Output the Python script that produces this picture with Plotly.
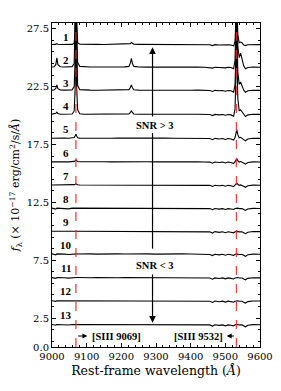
import plotly.graph_objects as go

# Rest-frame wavelength grid (Angstrom)
wave = [9000, 9006, 9011, 9014, 9017, 9024, 9035, 9048, 9058, 9064, 9067, 9069, 9071, 9074, 9080,
        9092, 9110, 9130, 9150, 9170, 9190, 9210, 9222, 9226, 9229, 9232, 9236, 9250, 9275, 9300,
        9325, 9350, 9375, 9400, 9420, 9440, 9455, 9463, 9470, 9482, 9492, 9500, 9508, 9516, 9524,
        9528, 9531, 9533, 9536, 9540, 9544, 9548, 9553, 9558, 9565, 9580, 9600]

# Vertical offsets of each stacked spectrum
offsets = [26, 24, 22, 20, 18, 16, 14, 12, 10, 8, 6, 4, 2]
labels = ["1", "2", "3", "4", "5", "6", "7", "8", "9", "10", "11", "12", "13"]

# Flux (1e-17 erg/cm2/s/A), before offset
flux_1 = [0.14, 0.13, 0.15, 0.22, 0.16, 0.14, 0.15, 0.14, 0.15, 0.25, 1.5, 4.0, 1.5, 0.3, 0.17,
          0.15, 0.14, 0.15, 0.14, 0.15, 0.14, 0.15, 0.16, 0.22, 0.32, 0.22, 0.16, 0.15, 0.14, 0.15,
          0.14, 0.15, 0.14, 0.15, 0.14, 0.13, 0.12, 0.05, 0.13, 0.10, 0.12, 0.08, 0.12, 0.10, 0.02,
          0.4, 3.0, 4.0, 1.0, 0.3, 0.35, 0.3, 0.1, 0.05, 0.12, 0.14, 0.13]
flux_2 = [0.20, 0.22, 0.40, 1.00, 0.40, 0.22, 0.20, 0.21, 0.23, 0.5, 3.0, 8.0, 3.0, 0.6, 0.25,
          0.21, 0.20, 0.20, 0.19, 0.20, 0.20, 0.21, 0.25, 0.55, 0.95, 0.50, 0.25, 0.20, 0.19, 0.20,
          0.20, 0.19, 0.20, 0.19, 0.20, 0.18, 0.17, 0.10, 0.18, 0.15, 0.17, 0.12, 0.18, 0.15, 0.05,
          0.8, 5.0, 6.0, 2.0, 1.0, 1.4, 1.0, 0.3, 0.05, 0.15, 0.20, 0.18]
flux_3 = [0.20, 0.21, 0.35, 0.65, 0.32, 0.21, 0.20, 0.20, 0.22, 0.5, 3.0, 8.0, 3.0, 0.6, 0.24,
          0.20, 0.20, 0.19, 0.20, 0.20, 0.19, 0.20, 0.24, 0.42, 0.65, 0.40, 0.23, 0.20, 0.19, 0.20,
          0.19, 0.20, 0.20, 0.19, 0.20, 0.18, 0.17, 0.08, 0.18, 0.14, 0.17, 0.10, 0.17, 0.14, 0.03,
          0.7, 5.0, 6.0, 1.8, 0.7, 0.9, 0.6, 0.2, 0.02, 0.14, 0.19, 0.18]
flux_4 = [0.12, 0.13, 0.20, 0.30, 0.18, 0.12, 0.12, 0.11, 0.13, 0.4, 2.5, 8.0, 2.5, 0.5, 0.15,
          0.12, 0.12, 0.11, 0.12, 0.12, 0.11, 0.12, 0.15, 0.28, 0.40, 0.27, 0.14, 0.12, 0.11, 0.12,
          0.11, 0.12, 0.12, 0.11, 0.12, 0.10, 0.09, 0.00, 0.10, 0.06, 0.09, 0.03, 0.09, 0.06, -0.05,
          0.6, 4.5, 6.0, 1.5, 0.4, 0.5, 0.35, 0.1, -0.08, 0.06, 0.11, 0.10]
flux_5 = [0.04, 0.05, 0.04, 0.06, 0.05, 0.04, 0.05, 0.04, 0.05, 0.10, 0.25, 0.38, 0.25, 0.08, 0.05,
          0.04, 0.05, 0.04, 0.05, 0.04, 0.05, 0.04, 0.05, 0.07, 0.09, 0.06, 0.05, 0.04, 0.05, 0.04,
          0.05, 0.04, 0.05, 0.04, 0.04, 0.03, 0.02, -0.08, 0.03, -0.02, 0.02, -0.06, 0.02, -0.02, -0.12,
          0.10, 0.55, 0.78, 0.35, 0.08, 0.12, 0.06, -0.08, -0.18, -0.02, 0.04, 0.03]
flux_6 = [0.00, 0.01, 0.00, 0.02, 0.01, 0.00, 0.01, 0.00, 0.01, 0.04, 0.10, 0.16, 0.10, 0.03, 0.01,
          0.00, 0.01, 0.00, 0.01, 0.00, 0.01, 0.00, 0.01, 0.02, 0.03, 0.02, 0.01, 0.00, 0.01, 0.00,
          0.01, 0.00, 0.01, 0.00, 0.00, -0.01, -0.02, -0.12, -0.01, -0.06, -0.02, -0.10, -0.02, -0.05, -0.14,
          0.02, 0.18, 0.26, 0.10, -0.02, 0.03, 0.00, -0.10, -0.20, -0.05, 0.00, -0.01]
flux_7 = [0.00, 0.00, -0.02, 0.01, 0.00, 0.00, 0.00, -0.01, 0.00, 0.03, 0.07, 0.11, 0.07, 0.02, 0.00,
          0.00, 0.00, -0.01, 0.00, 0.00, 0.00, -0.01, 0.00, 0.01, 0.02, 0.01, 0.00, 0.00, 0.00, -0.01,
          0.00, 0.00, -0.01, 0.00, 0.00, -0.02, -0.03, -0.13, -0.02, -0.07, -0.03, -0.11, -0.03, -0.06, -0.14,
          0.00, 0.10, 0.16, 0.06, -0.03, 0.01, -0.02, -0.11, -0.20, -0.06, -0.01, -0.02]
flux_8 = [0.00, -0.02, -0.08, 0.00, -0.01, 0.00, -0.02, -0.06, 0.00, 0.00, 0.01, 0.02, 0.01, 0.00, -0.01,
          0.00, -0.01, 0.00, -0.03, 0.00, 0.00, -0.01, 0.00, 0.00, 0.01, 0.00, 0.00, -0.01, 0.00, -0.02,
          0.00, -0.01, 0.00, 0.00, -0.01, -0.02, -0.04, -0.14, -0.03, -0.08, -0.04, -0.12, -0.04, -0.07, -0.12,
          -0.03, 0.00, 0.02, 0.00, -0.04, -0.02, -0.04, -0.12, -0.20, -0.07, -0.02, -0.03]
flux_9 = [0.00, -0.01, -0.06, 0.00, 0.00, -0.01, -0.02, -0.05, 0.00, 0.00, 0.00, 0.01, 0.00, -0.01, 0.00,
          -0.01, 0.00, -0.02, 0.00, -0.01, 0.00, 0.00, -0.01, 0.00, 0.00, 0.00, -0.01, 0.00, -0.01, 0.00,
          -0.01, 0.00, -0.01, 0.00, -0.01, -0.02, -0.05, -0.15, -0.03, -0.09, -0.04, -0.12, -0.04, -0.08, -0.13,
          -0.04, -0.01, 0.01, -0.01, -0.05, -0.02, -0.05, -0.13, -0.21, -0.08, -0.02, -0.03]
flux_10 = [0.05, 0.03, -0.03, 0.05, 0.04, 0.05, 0.03, 0.00, 0.05, 0.04, 0.05, 0.05, 0.05, 0.04, 0.05,
           0.04, 0.05, 0.03, 0.05, 0.04, 0.05, 0.04, 0.05, 0.05, 0.04, 0.05, 0.05, 0.04, 0.05, 0.03,
           0.05, 0.04, 0.05, 0.04, 0.04, 0.03, 0.00, -0.10, 0.02, -0.04, 0.01, -0.07, 0.01, -0.03, -0.08,
           0.01, 0.04, 0.05, 0.04, 0.00, 0.02, 0.00, -0.08, -0.16, -0.03, 0.03, 0.02]
flux_11 = [0.00, -0.02, -0.07, 0.00, -0.01, 0.00, -0.01, -0.05, 0.00, 0.00, 0.00, 0.01, 0.00, 0.00, -0.01,
           0.00, -0.01, 0.00, -0.02, 0.00, -0.01, 0.00, 0.00, 0.00, 0.00, 0.00, 0.00, -0.01, 0.00, -0.01,
           0.00, -0.01, 0.00, -0.01, 0.00, -0.02, -0.04, -0.14, -0.03, -0.08, -0.03, -0.11, -0.03, -0.07, -0.12,
           -0.03, 0.00, 0.01, 0.00, -0.04, -0.02, -0.04, -0.12, -0.19, -0.07, -0.02, -0.03]
flux_12 = [0.00, -0.01, -0.06, 0.00, 0.00, -0.01, -0.01, -0.05, 0.00, 0.00, 0.00, 0.01, 0.00, -0.01, 0.00,
           -0.01, 0.00, -0.01, 0.00, 0.00, -0.01, 0.00, 0.00, 0.00, 0.00, 0.00, -0.01, 0.00, -0.01, 0.00,
           -0.01, 0.00, 0.00, -0.01, 0.00, -0.02, -0.05, -0.15, -0.03, -0.09, -0.04, -0.12, -0.04, -0.08, -0.13,
           -0.04, -0.01, 0.00, -0.01, -0.05, -0.02, -0.05, -0.13, -0.20, -0.08, -0.02, -0.03]
flux_13 = [-0.05, -0.07, -0.12, -0.05, -0.06, -0.05, -0.06, -0.10, -0.05, -0.05, -0.05, -0.04, -0.05, -0.05, -0.06,
           -0.05, -0.06, -0.05, -0.07, -0.05, -0.05, -0.06, -0.05, -0.05, -0.05, -0.05, -0.05, -0.06, -0.05, -0.07,
           -0.05, -0.06, -0.05, -0.05, -0.06, -0.07, -0.09, -0.19, -0.08, -0.13, -0.09, -0.17, -0.09, -0.12, -0.17,
           -0.08, -0.05, -0.04, -0.05, -0.09, -0.07, -0.09, -0.17, -0.25, -0.12, -0.07, -0.08]

fluxes = [flux_1, flux_2, flux_3, flux_4, flux_5, flux_6, flux_7,
          flux_8, flux_9, flux_10, flux_11, flux_12, flux_13]

line_waves = [9069, 9532]
line_names = ["[SIII 9069]", "[SIII 9532]"]

serif_txt = "Liberation Serif"
tick_font = "DejaVu Serif"

fig = go.Figure()
for f, off in zip(fluxes, offsets):
    fig.add_trace(go.Scatter(x=wave, y=[v + off for v in f], mode="lines",
                             line=dict(color="black", width=1.1), showlegend=False,
                             hoverinfo="skip"))

shapes = []
for lw in line_waves:
    shapes.append(dict(type="line", xref="x", yref="y", x0=lw, x1=lw, y0=0, y1=28,
                       line=dict(color="rgba(255,30,30,0.85)", width=1.3, dash="dash"),
                       layer="above"))
# connecting line between the two SNR labels
shapes.append(dict(type="line", xref="x", yref="y", x0=9290, x1=9290, y0=18.5, y1=8.5,
                   line=dict(color="black", width=1.2), layer="above"))

annotations = []
for lab, off in zip(labels, offsets):
    annotations.append(dict(x=9040, y=off + 0.8, xref="x", yref="y", text="<b>%s</b>" % lab,
                            showarrow=False, font=dict(family=serif_txt, size=11, color="black")))

# SNR arrows
annotations.append(dict(x=9296, y=19.1, xref="x", yref="y", text="<b>SNR &gt; 3</b>",
                        showarrow=False, font=dict(family=serif_txt, size=10.5, color="black")))
annotations.append(dict(x=9290, y=25.9, ax=9290, ay=19.8, xref="x", yref="y", axref="x", ayref="y",
                        text="", showarrow=True, arrowhead=2, arrowsize=1.1, arrowwidth=1.2,
                        arrowcolor="black"))
annotations.append(dict(x=9296, y=7.05, xref="x", yref="y", text="<b>SNR &lt; 3</b>",
                        showarrow=False, font=dict(family=serif_txt, size=10.5, color="black")))
annotations.append(dict(x=9290, y=2.1, ax=9290, ay=6.4, xref="x", yref="y", axref="x", ayref="y",
                        text="", showarrow=True, arrowhead=2, arrowsize=1.1, arrowwidth=1.2,
                        arrowcolor="black"))

# line-name labels at the bottom
annotations.append(dict(x=9102, y=0.95, ax=9071, ay=0.95, xref="x", yref="y", axref="x", ayref="y",
                        text="", showarrow=True, arrowhead=2, arrowsize=0.9, arrowwidth=1.1,
                        arrowcolor="black"))
annotations.append(dict(x=9110, y=0.95, xref="x", yref="y", text="<b>%s</b>" % line_names[0],
                        xanchor="left", showarrow=False,
                        font=dict(family=serif_txt, size=10.5, color="black")))
annotations.append(dict(x=9504, y=0.95, ax=9529, ay=0.95, xref="x", yref="y", axref="x", ayref="y",
                        text="", showarrow=True, arrowhead=2, arrowsize=0.9, arrowwidth=1.1,
                        arrowcolor="black"))
annotations.append(dict(x=9498, y=0.95, xref="x", yref="y", text="<b>%s</b>" % line_names[1],
                        xanchor="right", showarrow=False,
                        font=dict(family=serif_txt, size=10.5, color="black")))

ytickvals = [0, 2.5, 7.5, 12.5, 17.5, 22.5, 27.5]
yticktext = ["0.0", "2.5", "7.5", "12.5", "17.5", "22.5", "27.5"]
xtickvals = [9000, 9100, 9200, 9300, 9400, 9500, 9600]

fig.update_layout(
    width=281, height=391,
    margin=dict(l=52, r=21, t=23, b=44),
    paper_bgcolor="white", plot_bgcolor="white",
    shapes=shapes, annotations=annotations,
    font=dict(family=tick_font, color="black"),
    xaxis=dict(range=[9000, 9600], tickvals=xtickvals, ticktext=[str(v) for v in xtickvals],
               ticks="inside", ticklen=4, tickwidth=1, tickcolor="black",
               minor=dict(dtick=20, tick0=9000, ticks="inside", ticklen=2, tickcolor="black"),
               showline=True, linecolor="black", linewidth=1, mirror="allticks",
               showgrid=False, zeroline=False, automargin=False,
               tickfont=dict(family=tick_font, size=10),
               title=dict(text="Rest-frame wavelength (<i>Å</i>)", standoff=5,
                          font=dict(family=tick_font, size=12.5))),
    yaxis=dict(range=[0, 28], tickvals=ytickvals, ticktext=yticktext,
               ticks="inside", ticklen=4, tickwidth=1, tickcolor="black",
               minor=dict(dtick=1, tick0=0.5, ticks="inside", ticklen=2, tickcolor="black"),
               showline=True, linecolor="black", linewidth=1, mirror="allticks",
               showgrid=False, zeroline=False, automargin=False,
               tickfont=dict(family=tick_font, size=10),
               title=dict(text="<i>f</i><sub>λ</sub> (× 10<sup>−17</sup> erg/cm<sup>2</sup>/s/<i>Å</i>)",
                          standoff=4, font=dict(family=tick_font, size=11))),
)

fig.write_html("out.html", config={"displayModeBar": False},
               post_script="document.body.style.margin='0px';")
